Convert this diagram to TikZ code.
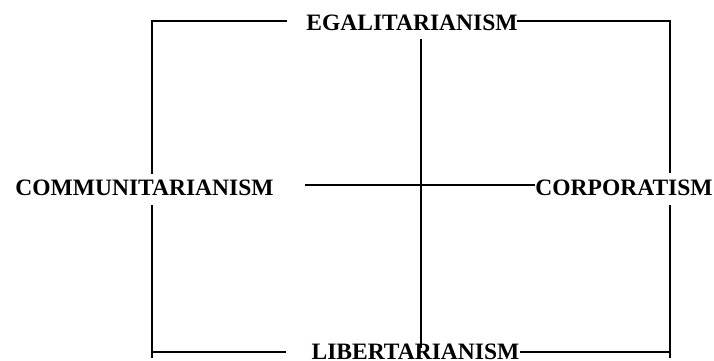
\documentclass[tikz,border=0pt]{standalone}
\usepackage{fontspec}
\setmainfont{Liberation Serif}
\begin{document}
\begin{tikzpicture}[x=1pt,y=-1pt,
  lbl/.style={font=\fontsize{23.5}{28}\selectfont\bfseries, inner sep=0pt, anchor=base},
  ln/.style={line width=2pt, black}]
\useasboundingbox (0,0) rectangle (714,360);
% labels
\node[lbl] (ega) at (412,30.5) {EGALITARIANISM};
\node[lbl] (com) at (144.5,195.7) {COMMUNITARIANISM};
\node[lbl] (cor) at (624,195.7) {CORPORATISM};
\node[lbl] (lib) at (415.5,359.5) {LIBERTARIANISM};
% corners and breakpoints
\coordinate (tl) at (151.5,21);
\coordinate (tr) at (669.5,21);
\coordinate (bl) at (151.5,352);
\coordinate (br) at (669.5,352);
\coordinate (tla) at (287,21);
\coordinate (tra) at (517,21);
\coordinate (bla) at (286,352);
\coordinate (bra) at (520,352);
\coordinate (lu) at (151.5,174);
\coordinate (ld) at (151.5,205);
\coordinate (ru) at (669.5,173);
\coordinate (rd) at (669.5,205);
\coordinate (blx) at (151.5,357.5);
\coordinate (brx) at (669.5,357.5);
\coordinate (mt) at (420.7,39);
\coordinate (mb) at (420.7,348);
\coordinate (ml) at (305,185);
\coordinate (mr) at (535,185);
% frame
\draw[ln] (tla) -- (tl) -- (lu);
\draw[ln] (tra) -- (tr) -- (ru);
\draw[ln] (ld) -- (blx);
\draw[ln] (rd) -- (brx);
\draw[ln] (bl) -- (bla);
\draw[ln] (bra) -- (br);
% cross
\draw[ln] (mt) -- (mb);
\draw[ln] (ml) -- (mr);
\end{tikzpicture}
\end{document}
